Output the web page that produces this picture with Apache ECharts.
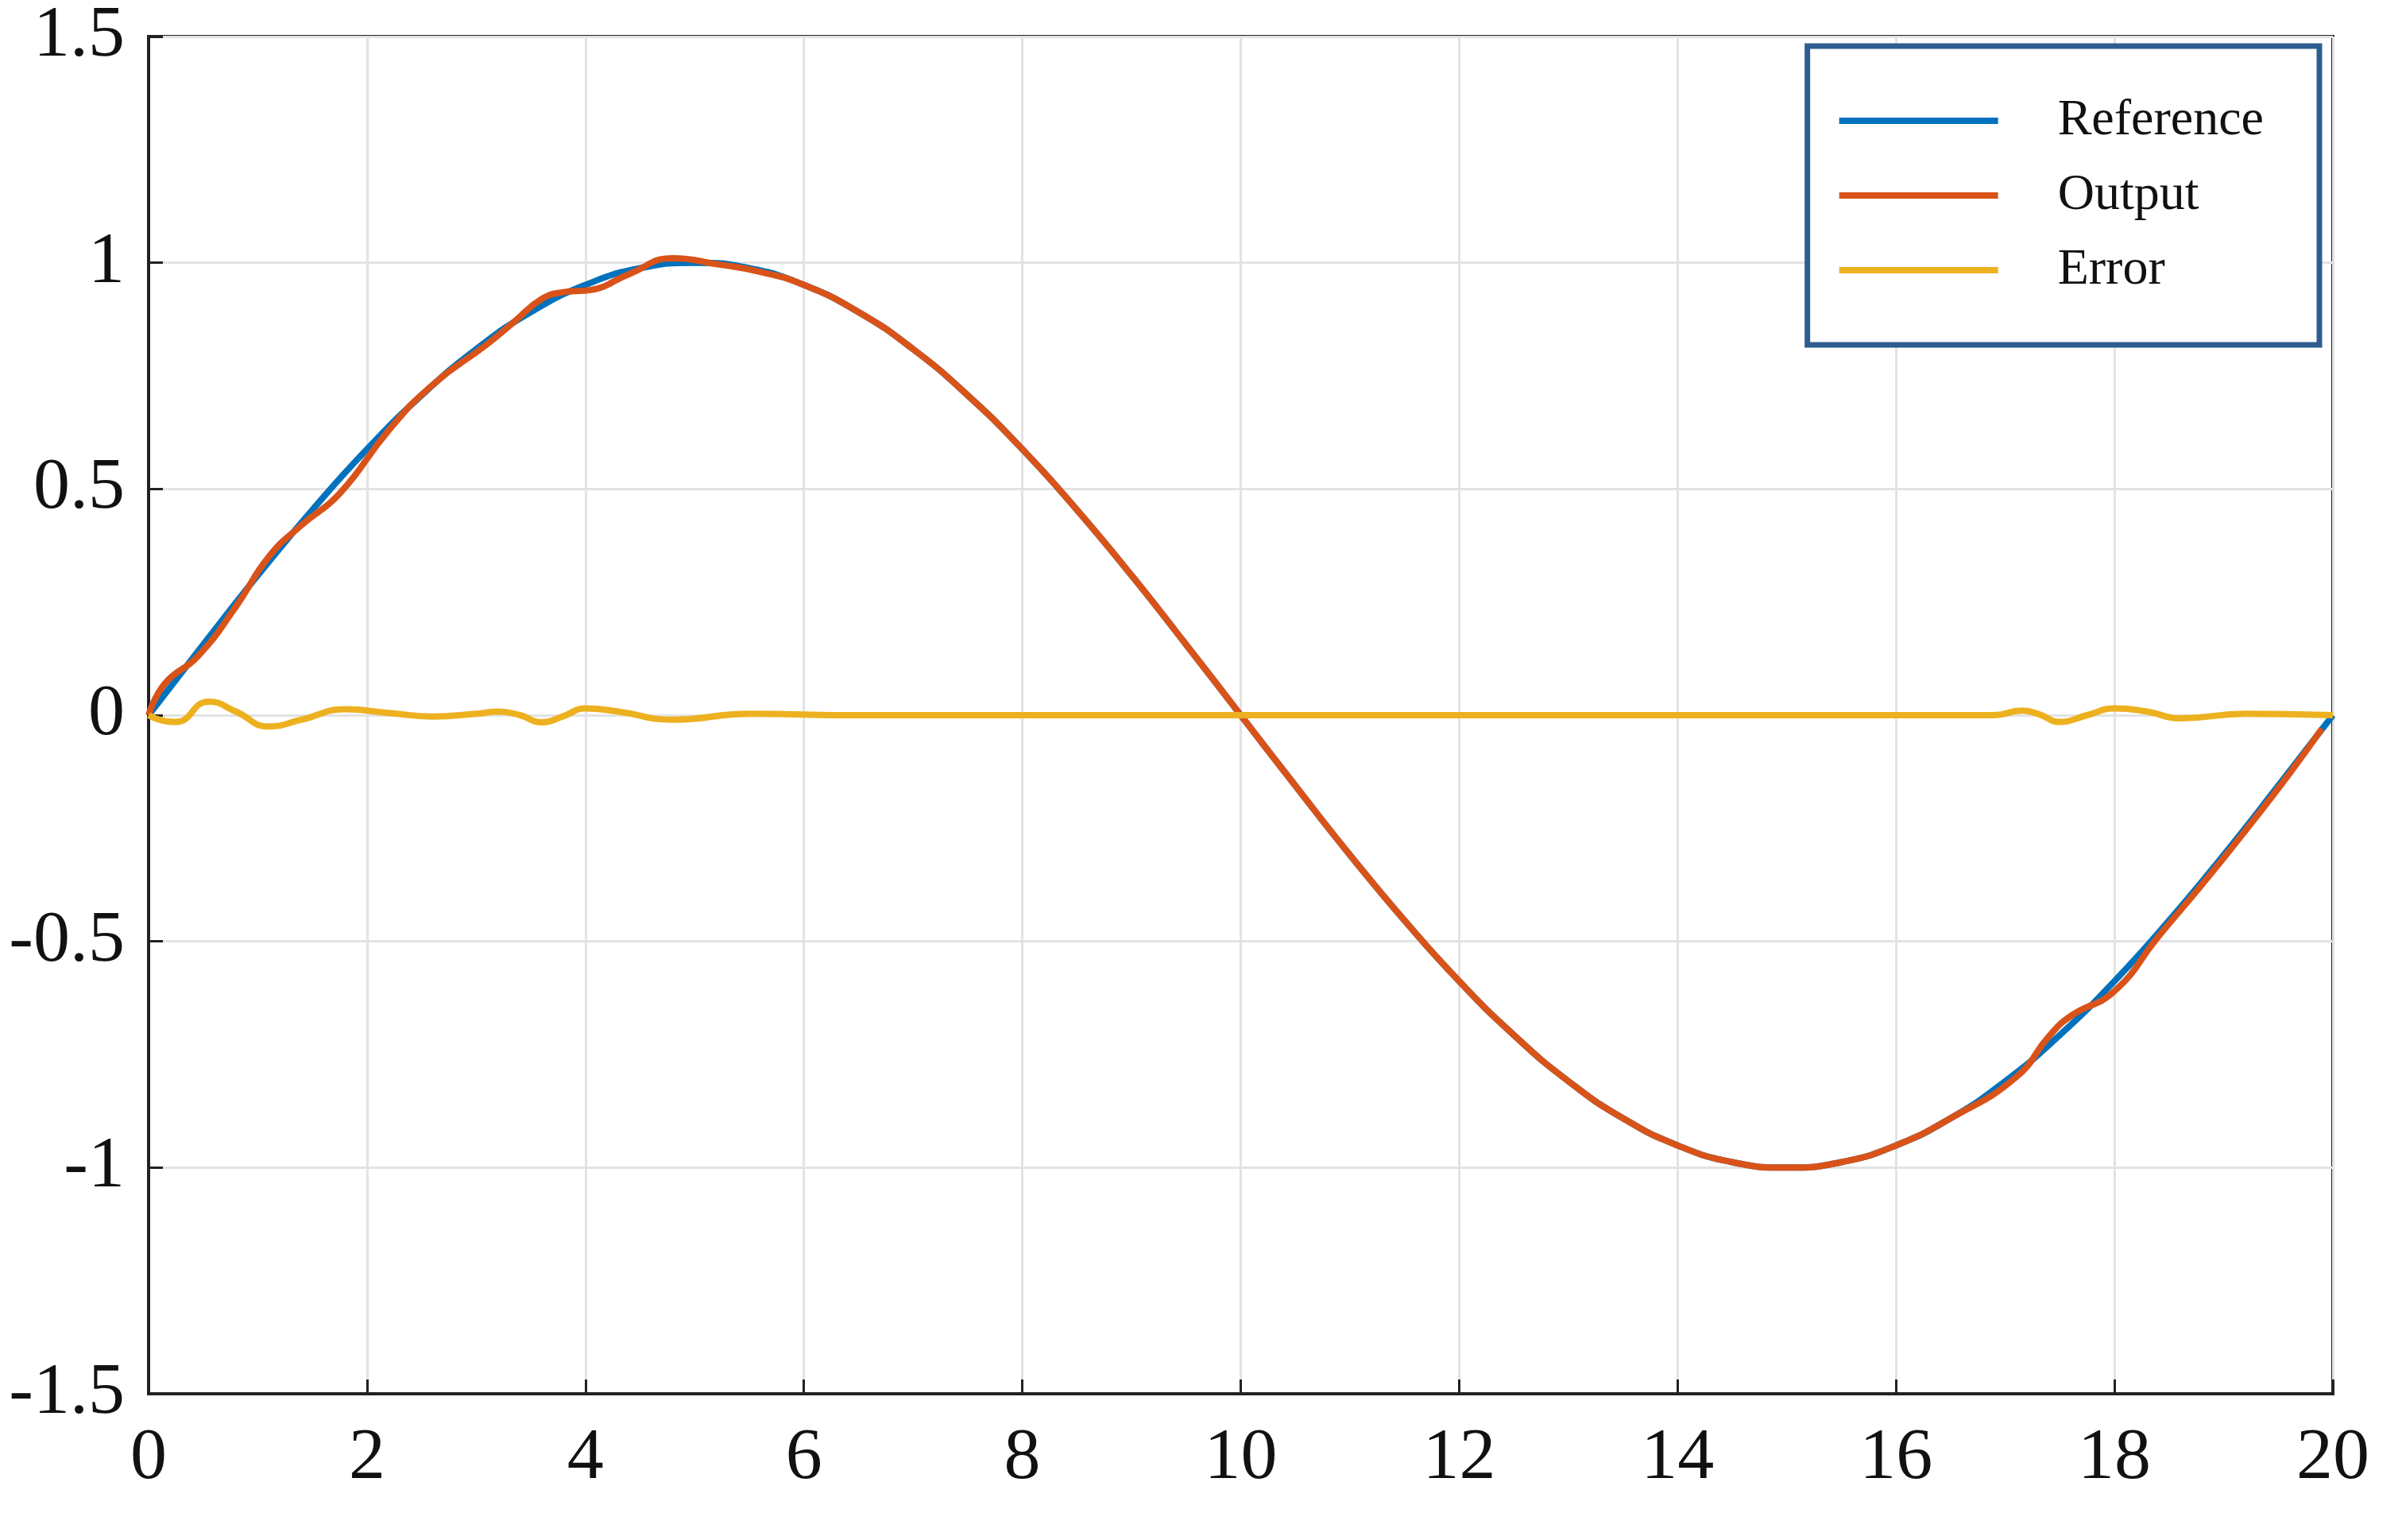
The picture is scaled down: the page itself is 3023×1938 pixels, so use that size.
<!DOCTYPE html>
<html>
<head>
<meta charset="utf-8">
<script src="https://cdn.jsdelivr.net/npm/echarts@6/dist/echarts.min.js"></script>
<style>html,body{margin:0;padding:0;background:#fff}#chart{width:3023px;height:1938px}</style>
</head>
<body>
<div id="chart"></div>
<script>
// values
const refT = [0,0.5,1,1.5,2,2.5,3,3.5,4,4.5,5,5.5,6,6.5,7,7.5,8,8.5,9,9.5,10,10.5,11,11.5,12,12.5,13,13.5,14,14.5,15,15.5,16,16.5,17,17.5,18,18.5,19,19.5,20];
const refY = [0,0.156,0.309,0.454,0.588,0.707,0.809,0.891,0.951,0.988,1,0.988,0.951,0.891,0.809,0.707,0.588,0.454,0.309,0.156,0,-0.156,-0.309,-0.454,-0.588,-0.707,-0.809,-0.891,-0.951,-0.988,-1,-0.988,-0.951,-0.891,-0.809,-0.707,-0.588,-0.454,-0.309,-0.156,0];

const outT = [0,0.15,0.45,0.8,1.1,1.4,1.75,2.2,2.6,3.1,3.35,3.6,3.8,4.05,4.4,4.8,5.2,5.6,6,6.5,7,7.5,8,8.5,9,9.5,10,10.5,11,11.5,12,12.5,13,13.5,14,14.5,15,15.5,16,16.5,17.1,17.4,17.6,18,18.4,18.8,19.2,19.6,19.9];
const outY = [0,0.07,0.13,0.24,0.35,0.42,0.49,0.63,0.73,0.82,0.87,0.92,0.935,0.94,0.975,1.01,0.997,0.98,0.951,0.891,0.809,0.707,0.588,0.454,0.309,0.156,0,-0.156,-0.309,-0.454,-0.588,-0.707,-0.809,-0.891,-0.951,-0.988,-1,-0.988,-0.951,-0.891,-0.80,-0.71,-0.665,-0.61,-0.49,-0.375,-0.255,-0.13,-0.03];

const errT = [0,0.1,0.25,0.55,0.8,1.1,1.4,1.8,2.2,2.6,3,3.2,3.4,3.6,3.8,4.0,4.3,4.8,5.5,6.5,10,16.9,17.15,17.3,17.5,17.75,18.0,18.3,18.6,19.2,20];
const errY = [0,-0.01,-0.015,0.03,0.008,-0.025,-0.01,0.013,0.005,-0.003,0.003,0.008,0,-0.016,-0.002,0.015,0.008,-0.01,0.003,0,0,0,0.01,0.003,-0.015,0,0.015,0.008,-0.007,0.003,0];

const pairs = (xs, ys) => xs.map((x, i) => [x, ys[i]]);
const serif = 'Liberation Serif';

const chart = echarts.init(document.getElementById('chart'));
const axisCommon = {
  axisLine: { onZero: false, lineStyle: { color: '#222', width: 4 } },
  axisTick: { inside: true, length: 18, lineStyle: { color: '#222', width: 3 } },
  splitLine: { show: true, lineStyle: { color: '#e3e3e3', width: 3 } },
  axisLabel: { fontFamily: serif, fontSize: 92, color: '#111' }
};
chart.setOption({
  backgroundColor: '#fff',
  animation: false,
  grid: { left: 187, right: 87, top: 35, bottom: 184, show: true, borderColor: '#222', borderWidth: 4 },
  xAxis: Object.assign({ type: 'value', min: 0, max: 20, interval: 2 }, axisCommon,
    { axisLabel: Object.assign({}, axisCommon.axisLabel, { margin: 36 }) }),
  yAxis: Object.assign({ type: 'value', min: -1.5, max: 1.5, interval: 0.5 }, axisCommon,
    { axisLabel: Object.assign({}, axisCommon.axisLabel, { margin: 30 }) }),
  legend: {
    orient: 'vertical', right: 104, top: 58,
    itemWidth: 200, itemHeight: 8, itemGap: 30,
    padding: [62, 70, 62, 40],
    borderColor: '#2f5d8f', borderWidth: 7, backgroundColor: '#fff',
    icon: 'rect',
    textStyle: { fontFamily: serif, fontSize: 64, color: '#111', padding: [0, 0, 0, 70] }
  },
  series: [
    { name: 'Reference', type: 'line', smooth: true, showSymbol: false, data: pairs(refT, refY), lineStyle: { width: 8, color: '#0072BD' }, itemStyle: { color: '#0072BD' } },
    { name: 'Output', type: 'line', smooth: true, showSymbol: false, data: pairs(outT, outY), lineStyle: { width: 8, color: '#D95319' }, itemStyle: { color: '#D95319' } },
    { name: 'Error', type: 'line', smooth: true, showSymbol: false, data: pairs(errT, errY), lineStyle: { width: 8, color: '#EDB120' }, itemStyle: { color: '#EDB120' } }
  ]
});
</script>
</body>
</html>
